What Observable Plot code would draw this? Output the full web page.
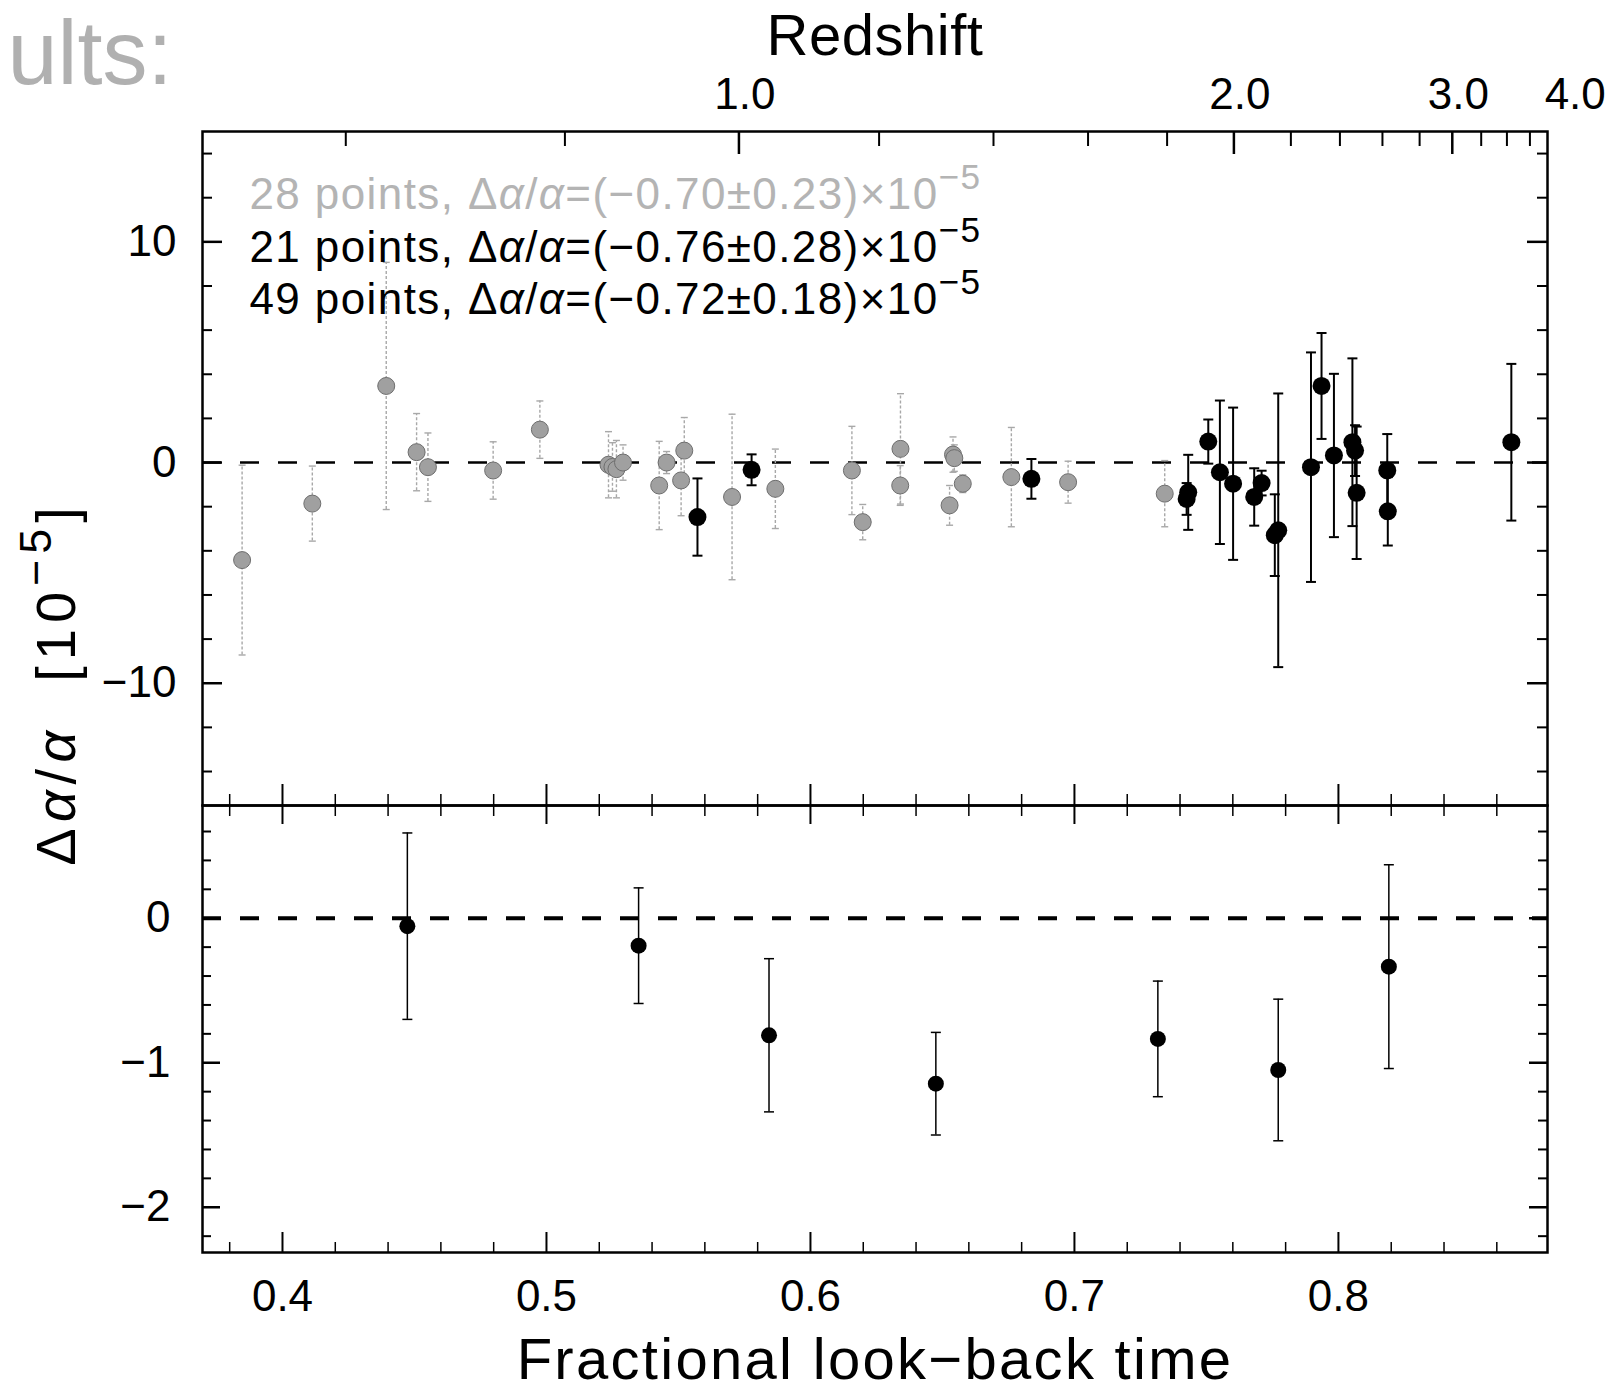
<!DOCTYPE html>
<html><head><meta charset="utf-8">
<script src="https://cdn.jsdelivr.net/npm/d3@7"></script>
<script src="https://cdn.jsdelivr.net/npm/@observablehq/plot@0.6"></script>
<style>
html,body{margin:0;padding:0;background:#fff;}
#chart{position:relative;width:1606px;height:1393px;overflow:hidden;background:#fff;}
#chart svg{position:absolute;left:0;top:0;}
</style></head><body><div id="chart"></div>
<script>
// ---------------- data ----------------
// 28 low-redshift points (grey): fractional look-back time, Δα/α [1e-5], 1σ error
const grayT = [0.3847, 0.4113, 0.4393, 0.4508, 0.4551, 0.4798, 0.4975, 0.5235, 0.5250, 0.5265, 0.5290, 0.5427, 0.5455, 0.5510, 0.5522, 0.5703, 0.5867, 0.6157, 0.6198, 0.6341, 0.6340, 0.6527, 0.6540, 0.6545, 0.6577, 0.6761, 0.6976, 0.7342];
const grayV = [-4.42, -1.86, 3.47, 0.47, -0.21, -0.36, 1.49, -0.10, -0.20, -0.30, 0.00, -1.04, 0.00, -0.81, 0.54, -1.56, -1.19, -0.36, -2.70, 0.62, -1.04, -1.94, 0.36, 0.20, -0.96, -0.66, -0.89, -1.41];
const grayE = [4.3, 1.7, 5.6, 1.75, 1.55, 1.3, 1.3, 1.5, 1.1, 1.3, 0.8, 2.0, 0.5, 1.6, 1.5, 3.75, 1.8, 2.0, 0.8, 2.5, 0.9, 0.9, 0.8, 0.6, 0.4, 2.25, 0.95, 1.5];
// 21 high-redshift points (black)
const blackT = [0.5572, 0.5777, 0.6837, 0.7425, 0.7431, 0.7507, 0.7551, 0.7601, 0.7681, 0.7709, 0.7759, 0.7772, 0.7896, 0.7936, 0.7983, 0.8053, 0.8063, 0.8069, 0.8185, 0.8187, 0.8655];
const blackV = [-2.47, -0.33, -0.74, -1.65, -1.35, 0.95, -0.44, -0.96, -1.56, -0.93, -3.29, -3.07, -0.21, 3.47, 0.32, 0.92, 0.54, -1.37, -0.36, -2.21, 0.92];
const blackE = [1.75, 0.7, 0.9, 0.72, 1.7, 1.0, 3.25, 3.45, 1.3, 0.56, 1.85, 6.2, 5.2, 2.4, 3.7, 3.8, 1.15, 3.0, 1.65, 1.55, 3.55];
// binned values (lower panel)
const binT = [0.4473, 0.5349, 0.5843, 0.6475, 0.7316, 0.7772, 0.8191];
const binV = [-0.055, -0.19, -0.81, -1.145, -0.835, -1.05, -0.335];
const binE = [0.645, 0.40, 0.53, 0.355, 0.40, 0.49, 0.705];

// ticks and labels
const timeMajor = [0.4, 0.5, 0.6, 0.7, 0.8];
const timeMinor = [0.38, 0.42, 0.44, 0.46, 0.48, 0.52, 0.54, 0.56, 0.58, 0.62, 0.64, 0.66, 0.68, 0.72, 0.74, 0.76, 0.78, 0.82, 0.84, 0.86];
const zMajor = [1.0, 2.0, 3.0];
const zMinor = [0.6, 0.8, 1.2, 1.4, 1.6, 1.8, 2.2, 2.4, 2.6, 2.8, 3.2, 3.4, 3.6];
const zLabels = [1.0, 2.0, 3.0, 4.0];
const topYMajor = [-10, 0, 10];
const topYMinor = [-14, -12, -8, -6, -4, -2, 2, 4, 6, 8, 12, 14];
const botYMajor = [-2, -1, 0];
const botYMinor = [-2.2, -1.8, -1.6, -1.4, -1.2, -0.8, -0.6, -0.4, -0.2, 0.2, 0.4, 0.6];
const legendGray = "28 points, Δα/α=(−0.70±0.23)×10^−5";
const legendBlack = ["21 points, Δα/α=(−0.76±0.28)×10^−5", "49 points, Δα/α=(−0.72±0.18)×10^−5"];
const yTitle = "Δα/α  [10^−5^]";
const topTitle = "Redshift";
const xTitle = "Fractional look−back time";
const fragment = "ults:";

// ---------------- helpers ----------------
const gray = grayT.map((t, i) => ({t, v: grayV[i], e: grayE[i]}));
const black = blackT.map((t, i) => ({t, v: blackV[i], e: blackE[i]}));
const bins = binT.map((t, i) => ({t, v: binV[i], e: binE[i]}));
// redshift -> fractional look-back time (flat ΛCDM, Ωm=0.3) for the top axis
const A = Math.sqrt(0.7 / 0.3);
const lookback = z => 1 - Math.asinh(A * Math.pow(1 + z, -1.5)) / Math.asinh(A);
const fmtNum = (d, n) => (d < 0 ? "−" : "") + (n == null ? String(Math.abs(d)) : Math.abs(d).toFixed(n));
const cap = {draw(ctx, size) { const r = Math.sqrt(size / Math.PI); ctx.moveTo(-r, 0); ctx.lineTo(r, 0); }};

const W = 1606, Hh = 1393, ML = 202, MR = 59;
const TOP_T = 131, TOP_B = 588, BOT_T = 805, BOT_B = 141;
const IW = W - ML - MR, IH1 = Hh - TOP_T - TOP_B, IH2 = Hh - BOT_T - BOT_B;
const font = "'Liberation Sans', Arial, sans-serif";
const xDomain = [0.3697, 0.8792];

function errorMarks(data, color, width, capR, dash) {
  return [
    Plot.ruleX(data, {x: "t", y1: d => d.v - d.e, y2: d => d.v + d.e, stroke: color, strokeWidth: width, strokeDasharray: dash}),
    Plot.dot(data, {x: "t", y: d => d.v + d.e, symbol: cap, r: capR, stroke: color, strokeWidth: width}),
    Plot.dot(data, {x: "t", y: d => d.v - d.e, symbol: cap, r: capR, stroke: color, strokeWidth: width})
  ];
}

// ---------------- top panel ----------------
const topPlot = Plot.plot({
  width: W, height: Hh, marginLeft: ML, marginRight: MR, marginTop: TOP_T, marginBottom: TOP_B,
  style: {background: "none", overflow: "visible", fontFamily: font, color: "black"},
  x: {domain: xDomain, axis: null},
  y: {domain: [-15.54, 15.0], axis: null},
  marks: [
    Plot.ruleY([0], {stroke: "black", strokeWidth: 2.5, strokeDasharray: "19,19"}),
    // left / right ticks
    Plot.tickY(topYMinor, {y: d => d, insetRight: IW - 10, strokeWidth: 2}),
    Plot.tickY(topYMajor, {y: d => d, insetRight: IW - 20, strokeWidth: 2.5}),
    Plot.tickY(topYMinor, {y: d => d, insetLeft: IW - 10, strokeWidth: 2}),
    Plot.tickY(topYMajor, {y: d => d, insetLeft: IW - 20, strokeWidth: 2.5}),
    // redshift ticks on top
    Plot.tickX(zMinor, {x: d => lookback(d), insetBottom: IH1 - 15, strokeWidth: 2}),
    Plot.tickX(zMajor, {x: d => lookback(d), insetBottom: IH1 - 23, strokeWidth: 2.5}),
    // divider ticks (upper half)
    Plot.tickX(timeMinor, {x: d => d, insetTop: IH1 - 11, strokeWidth: 1.5}),
    Plot.tickX(timeMajor, {x: d => d, insetTop: IH1 - 21, strokeWidth: 2}),
    // grey sample
    ...errorMarks(gray, "#a8a8a8", 1.4, 3.5, "3,2"),
    Plot.dot(gray, {x: "t", y: "v", r: 8.5, fill: "#a0a0a0", stroke: "#6e6e6e", strokeWidth: 1}),
    // black sample
    ...errorMarks(black, "black", 2, 5, null),
    Plot.dot(black, {x: "t", y: "v", r: 9, fill: "black"}),
    Plot.frame({stroke: "black", strokeWidth: 2.5}),
    // labels
    Plot.text(topYMajor, {y: d => d, frameAnchor: "left", dx: -26, textAnchor: "end", lineAnchor: "middle", text: d => fmtNum(d), fontSize: 44}),
    Plot.text(zLabels, {x: d => lookback(d), frameAnchor: "top", dx: 6, dy: -37, lineAnchor: "middle", text: d => d.toFixed(1), fontSize: 44}),
    Plot.text([topTitle], {frameAnchor: "top", dy: -95, lineAnchor: "middle", text: d => d, fontSize: 58}),
    Plot.text([legendGray], {frameAnchor: "top-left", dx: 47, dy: 63, textAnchor: "start", lineAnchor: "middle", text: d => d, fontSize: 44, fill: "#b4b4b4"}),
    Plot.text([legendBlack[0]], {frameAnchor: "top-left", dx: 47, dy: 116, textAnchor: "start", lineAnchor: "middle", text: d => d, fontSize: 44}),
    Plot.text([legendBlack[1]], {frameAnchor: "top-left", dx: 47, dy: 168, textAnchor: "start", lineAnchor: "middle", text: d => d, fontSize: 44}),
    Plot.text([yTitle], {frameAnchor: "left", dx: -145, dy: 683 - (TOP_T + IH1 / 2), rotate: -90, textAnchor: "middle", lineAnchor: "middle", text: d => d, fontSize: 56}),
    Plot.text([fragment], {frameAnchor: "top-left", dx: -195, dy: -48, textAnchor: "start", lineAnchor: "bottom", text: d => d, fontSize: 90, fill: "#b0b0b0"})
  ]
});

// ---------------- bottom panel ----------------
const botPlot = Plot.plot({
  width: W, height: Hh, marginLeft: ML, marginRight: MR, marginTop: BOT_T, marginBottom: BOT_B,
  style: {background: "none", overflow: "visible", fontFamily: font, color: "black"},
  x: {domain: xDomain, axis: null},
  y: {domain: [-2.313, 0.78], axis: null},
  marks: [
    Plot.ruleY([0], {stroke: "black", strokeWidth: 4, strokeDasharray: "19,19"}),
    Plot.tickY(botYMinor, {y: d => d, insetRight: IW - 9, strokeWidth: 2}),
    Plot.tickY(botYMajor, {y: d => d, insetRight: IW - 18, strokeWidth: 2.5}),
    Plot.tickY(botYMinor, {y: d => d, insetLeft: IW - 9, strokeWidth: 2}),
    Plot.tickY(botYMajor, {y: d => d, insetLeft: IW - 18, strokeWidth: 2.5}),
    // divider ticks (lower half)
    Plot.tickX(timeMinor, {x: d => d, insetBottom: IH2 - 11, strokeWidth: 1.5}),
    Plot.tickX(timeMajor, {x: d => d, insetBottom: IH2 - 19, strokeWidth: 2}),
    // bottom axis ticks
    Plot.tickX(timeMinor, {x: d => d, insetTop: IH2 - 10, strokeWidth: 1.5}),
    Plot.tickX(timeMajor, {x: d => d, insetTop: IH2 - 20, strokeWidth: 2}),
    ...errorMarks(bins, "black", 1.5, 5, null),
    Plot.dot(bins, {x: "t", y: "v", r: 8, fill: "black"}),
    Plot.frame({stroke: "black", strokeWidth: 2.5}),
    Plot.text(botYMajor, {y: d => d, frameAnchor: "left", dx: -32, textAnchor: "end", lineAnchor: "middle", text: d => fmtNum(d), fontSize: 44}),
    Plot.text(timeMajor, {x: d => d, frameAnchor: "bottom", dy: 44, lineAnchor: "middle", text: d => d.toFixed(1), fontSize: 44}),
    Plot.text([xTitle], {frameAnchor: "bottom", dy: 108, lineAnchor: "middle", text: d => d, fontSize: 58})
  ]
});

// rich text: ^...^ superscripts, italic alpha, letter spacing
const spacing = {[topTitle]: 0.5, [xTitle]: 2.3, [yTitle]: 6, [legendGray]: 1.4, [legendBlack[0]]: 1.4, [legendBlack[1]]: 1.4};
function enrich(svg) {
  d3.select(svg).selectAll("text").each(function () {
    const t = this.textContent;
    if (spacing[t] != null) this.setAttribute("letter-spacing", spacing[t]);
    if (!t.includes("^")) return;
    const segs = [];
    t.split("^").forEach((p, i) => {
      const sup = i % 2 === 1;
      p.split(/(α)/).forEach(q => { if (q) segs.push({text: q, sup, italic: q === "α"}); });
    });
    const sel = d3.select(this);
    sel.text(null);
    let prevSup = false;
    segs.forEach(s => {
      const ts = sel.append("tspan").text(s.text);
      if (s.italic) ts.attr("font-style", "italic");
      if (s.sup) {
        ts.attr("font-size", "0.8em");
        if (!prevSup) ts.attr("dy", "-0.55em");
      } else if (prevSup) ts.attr("dy", "0.44em");
      prevSup = s.sup;
    });
  });
}
enrich(topPlot); enrich(botPlot);
const chart = document.getElementById("chart");
chart.appendChild(topPlot);
chart.appendChild(botPlot);
</script></body></html>
